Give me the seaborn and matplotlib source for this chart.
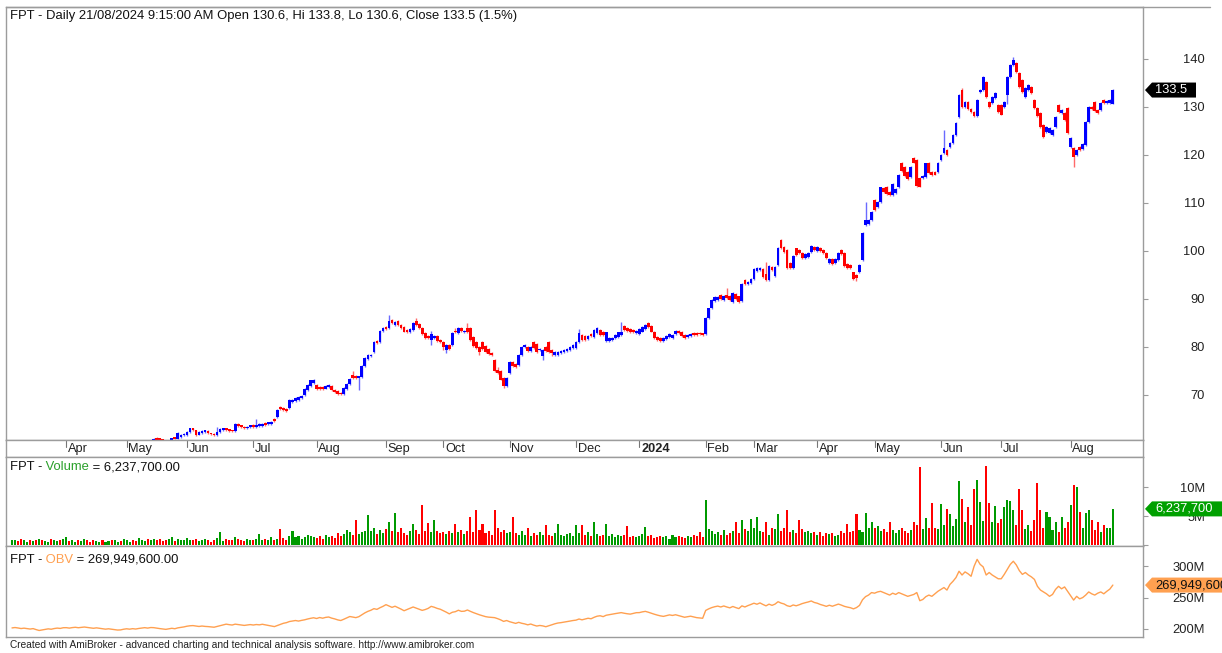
import numpy as np
import pandas as pd
import matplotlib
matplotlib.use("Agg")
import matplotlib.pyplot as plt
import seaborn as sns
from matplotlib.patches import Polygon
from matplotlib.transforms import IdentityTransform

sns.set_theme(style="white")
plt.rcParams["font.family"] = ["Liberation Sans", "DejaVu Sans"]

# ---------------- data ----------------
ticker = "FPT"
holidays = ["2023-05-01", "2023-05-02", "2023-05-03", "2023-09-01", "2023-09-04",
            "2024-01-01", "2024-02-08", "2024-02-09", "2024-02-12", "2024-02-13",
            "2024-02-14", "2024-04-18", "2024-04-29", "2024-04-30", "2024-05-01"]

opens = [
 56.3,56.5,56.8,56.2,56.0,56.6,57.0,56.8,57.3,57.1,57.5,57.2,57.6,57.9,57.5,57.8,58.2,58.0,
 58.4,58.7,58.3,58.8,59.0,58.6,58.9,59.2,58.8,58.5,58.2,58.6,58.9,58.6,59.0,59.3,59.0,59.4,59.6,59.3,
 59.7,59.8,60.0,59.7,59.5,59.9,60.1,60.2,59.9,60.4,61.1,60.8,60.6,60.5,60.2,60.4,61.2,60.9,61.2,61.6,
 61.6,62.3,63.0,62.6,61.7,62.0,62.3,62.4,62.0,61.9,61.6,62.3,62.6,63.0,62.8,62.6,62.4,64.0,63.7,63.4,63.0,63.3,
 63.8,63.3,63.6,63.5,64.2,63.9,64.0,65.0,65.4,67.4,67.3,67.1,67.3,68.6,68.8,69.0,69.3,70.0,71.0,71.8,72.4,
 72.0,71.7,71.6,71.3,71.6,71.9,71.1,70.8,70.4,70.2,71.3,72.2,74.2,73.9,73.5,73.8,76.0,77.4,78.0,79.0,81.2,81.0,83.4,
 84.2,83.9,85.6,84.5,85.4,84.6,84.2,83.6,83.0,83.6,85.3,84.8,84.0,82.8,82.3,81.5,81.9,82.2,81.4,
 81.0,79.3,80.4,80.3,83.3,82.9,84.0,83.0,84.0,84.0,82.0,81.0,80.0,81.0,80.2,79.5,78.8,77.3,75.2,75.0,73.5,71.8,
 74.6,76.9,76.5,76.2,78.3,80.0,79.9,79.2,81.0,80.6,79.3,78.0,80.0,81.0,79.4,78.3,78.4,78.7,79.0,79.2,79.4,79.8,
 79.8,81.0,82.4,82.3,81.6,82.6,82.0,82.8,83.6,83.2,81.3,81.2,81.4,81.8,82.0,82.5,84.4,84.0,83.8,83.6,82.8,
 82.6,83.2,83.8,84.9,84.3,83.2,82.0,81.8,81.3,81.6,82.0,81.9,82.6,83.4,83.1,82.5,82.0,82.2,82.9,82.8,82.8,82.7,
 82.6,86.0,88.0,89.6,89.8,90.8,89.8,90.8,90.6,89.4,91.0,90.5,89.6,94.0,93.0,93.4,
 94.2,95.8,96.0,96.2,95.2,94.0,96.6,94.8,97.0,102.2,100.8,100.2,97.5,96.5,100.5,100.2,99.6,98.6,98.8,99.8,100.8,
 100.0,100.6,100.2,99.6,97.5,98.3,97.4,98.1,100.2,99.6,97.2,97.0,95.5,95.0,95.6,98.1,105.4,105.6,106.5,
 110.5,109.2,110.2,113.0,113.3,112.3,111.7,112.1,113.3,118.3,117.5,116.5,115.4,119.3,119.0,115.2,115.2,115.4,118.3,116.5,116.4,116.5,
 119.0,120.4,121.0,121.7,122.5,124.2,127.9,133.6,130.0,131.0,129.5,129.0,128.0,133.1,133.5,135.2,131.0,130.8,131.9,130.4,
 130.4,130.0,132.5,136.2,138.7,139.2,137.0,135.6,132.0,133.5,134.2,131.5,129.8,128.7,126.2,124.8,124.5,124.2,125.8,130.4,128.8,128.8,129.8,
 121.7,121.5,120.0,121.7,121.2,122.0,126.9,130.0,131.0,129.4,129.4,131.5,130.8,130.8,130.6]

closes = [
 56.5,56.8,56.2,56.0,56.6,57.0,56.8,57.3,57.1,57.5,57.2,57.6,57.9,57.5,57.8,58.2,58.0,58.4,
 58.7,58.3,58.8,59.0,58.6,58.9,59.2,58.8,58.5,58.2,58.6,58.9,58.6,59.0,59.3,59.0,59.4,59.6,59.3,59.7,
 59.8,60.0,59.7,59.5,59.9,60.1,60.2,59.9,60.4,60.8,60.7,60.6,60.5,60.2,60.4,61.0,60.9,62.0,61.6,61.8,
 62.3,63.0,62.6,61.7,62.2,62.4,62.5,62.0,61.8,61.6,62.3,62.8,63.0,62.7,62.5,62.4,63.9,63.6,63.3,63.0,63.4,63.6,
 63.4,63.7,63.9,64.0,63.8,64.2,64.3,64.6,66.9,67.0,66.9,66.7,68.9,69.0,69.3,69.6,69.8,71.2,72.0,73.0,73.1,
 71.3,71.3,71.2,71.9,72.0,71.1,70.6,70.2,70.1,71.5,72.2,73.4,73.5,73.5,73.8,76.0,77.6,78.3,78.4,81.0,80.8,83.3,83.9,
 83.8,85.4,85.0,85.2,84.6,84.0,83.2,83.0,83.8,85.0,84.5,84.0,82.6,81.9,81.8,82.6,82.3,81.2,81.0,
 80.0,80.4,79.6,82.9,83.0,84.0,83.4,83.3,83.0,81.5,80.2,79.8,79.0,79.5,79.0,78.5,78.4,75.0,74.5,73.2,71.8,73.5,
 76.8,76.0,75.9,78.3,80.0,80.4,79.2,79.9,79.8,79.0,79.5,79.4,79.2,79.0,78.7,78.9,79.0,79.1,79.4,79.6,80.0,80.4,
 81.0,82.9,81.5,81.4,82.2,82.3,83.5,84.0,82.5,82.4,83.0,81.8,81.9,82.5,83.0,83.0,83.6,83.4,83.1,83.0,83.4,
 83.8,84.2,84.6,84.2,83.2,81.8,81.5,81.3,81.9,82.3,82.6,82.4,83.4,82.9,82.2,81.9,82.5,82.6,82.5,82.5,82.6,82.5,
 86.0,88.0,89.7,90.3,90.4,90.0,90.6,90.2,89.8,91.2,90.0,89.4,93.0,93.0,93.6,94.2,
 96.2,96.4,96.5,94.6,94.0,96.8,96.0,96.6,100.6,100.6,99.8,96.5,96.5,99.0,99.2,99.5,98.6,99.4,99.6,101.0,100.2,
 100.8,100.0,99.6,98.6,98.4,97.3,98.3,99.6,99.3,96.8,96.5,96.4,94.2,94.3,97.0,103.8,106.4,106.5,108.1,
 108.6,110.2,113.2,112.2,111.9,111.6,114.0,112.8,115.8,116.6,115.6,115.0,117.4,118.4,113.5,113.4,115.5,118.2,116.3,115.8,115.9,118.3,
 120.0,121.4,120.0,122.5,124.2,126.7,132.5,130.0,131.0,129.5,129.0,128.0,131.5,133.6,136.2,132.0,130.0,132.0,132.9,129.0,
 128.4,131.0,136.2,138.7,139.8,137.3,134.2,133.0,134.0,134.6,132.9,129.8,128.0,125.8,123.8,125.8,125.5,125.2,127.9,129.0,129.4,127.3,124.6,
 123.5,119.6,121.0,121.0,122.2,126.9,130.0,129.5,129.2,128.8,130.8,130.8,131.3,131.5,133.5]

highs = [
 56.8,57.0,56.9,56.4,56.8,57.2,57.1,57.5,57.4,57.7,57.6,57.8,58.1,58.0,58.0,58.4,58.3,58.6,
 58.9,58.8,58.9,59.2,59.1,59.0,59.4,59.3,59.0,58.7,58.8,59.1,59.0,59.2,59.5,59.4,59.6,59.8,59.7,59.9,
 60.0,60.2,60.1,60.0,60.1,60.3,60.4,60.3,60.5,61.0,61.2,61.0,60.9,60.6,60.5,61.1,61.3,62.3,61.8,62.0,
 62.5,63.2,63.1,62.7,62.4,62.6,62.7,62.6,62.1,62.0,63.3,63.0,63.2,63.1,62.9,62.7,64.1,64.2,63.8,63.5,63.6,63.8,
 63.9,65.0,64.1,64.2,64.3,64.4,64.5,65.1,67.1,67.6,67.5,67.3,69.1,69.2,69.5,69.8,70.0,71.5,72.2,73.2,73.3,
 72.2,71.9,71.8,72.1,72.2,72.0,71.3,71.0,70.6,71.7,72.4,73.6,75.0,74.1,74.0,76.2,77.8,78.5,78.6,81.2,81.4,83.5,84.1,
 84.4,86.7,85.8,85.4,85.6,84.8,84.4,83.8,84.0,85.2,86.0,85.0,84.2,83.0,82.5,83.3,82.5,82.4,81.6,
 81.2,80.6,80.6,83.1,84.0,84.2,84.2,83.5,85.0,84.2,82.2,81.2,80.2,81.2,80.4,79.7,79.0,77.5,75.8,75.2,73.7,73.7,
 77.0,77.1,76.7,78.5,80.2,80.6,80.1,80.1,81.2,80.8,79.7,79.6,80.2,81.2,79.6,79.1,79.2,79.3,79.6,79.8,80.2,80.6,
 81.2,83.8,82.6,82.5,82.4,82.8,83.7,84.2,83.8,83.4,83.2,82.0,82.1,82.7,83.2,85.2,84.6,84.2,84.0,83.8,83.6,
 84.0,84.4,84.8,85.1,84.5,83.4,82.2,82.0,82.1,82.5,82.8,82.6,83.6,83.6,83.3,82.7,82.7,82.8,83.1,83.0,83.0,82.9,
 86.2,88.2,89.9,90.5,90.6,91.0,90.8,92.2,90.8,91.5,91.2,90.7,93.3,94.2,93.8,94.4,
 96.5,96.6,96.7,96.4,97.6,97.0,96.8,96.8,100.8,102.4,101.0,100.4,97.7,99.2,100.7,100.4,99.8,99.6,99.8,101.2,101.0,
 101.0,100.8,100.4,99.8,98.6,98.5,98.5,99.8,100.4,99.8,97.4,97.2,95.7,95.2,97.2,104.0,110.2,106.7,108.3,
 110.8,110.4,113.4,113.4,113.5,112.5,114.2,113.0,116.0,118.5,117.7,116.7,117.6,119.5,119.2,115.4,115.7,118.4,118.5,116.7,116.6,118.5,
 120.2,125.2,121.2,122.7,124.4,126.9,132.7,134.0,131.2,131.2,129.7,129.2,131.7,133.8,136.4,135.4,131.2,132.2,133.1,130.6,
 130.6,131.2,136.4,138.9,140.3,139.4,137.2,135.8,134.2,134.8,134.4,131.7,130.0,128.9,126.4,126.0,125.7,125.4,128.1,130.6,129.6,129.0,130.0,
 123.7,121.7,121.2,121.9,122.4,127.1,130.2,130.2,131.2,129.6,131.0,131.7,131.5,131.7,133.8]

lows = [
 56.0,56.3,56.0,55.7,55.9,56.4,56.5,56.7,56.9,57.0,57.0,57.1,57.4,57.3,57.4,57.7,57.8,57.9,
 58.2,58.2,58.2,58.6,58.5,58.4,58.8,58.7,58.3,58.0,58.1,58.5,58.4,58.5,58.9,58.8,58.9,59.2,59.1,59.2,
 59.4,59.5,59.5,59.3,59.4,59.7,59.9,59.8,59.8,60.3,60.6,60.5,60.3,60.0,60.0,60.3,60.8,60.8,61.1,61.4,
 61.4,62.1,62.4,61.5,61.6,61.8,62.1,61.9,61.6,61.4,61.4,62.1,62.4,62.5,62.3,62.2,62.3,63.4,63.1,62.8,62.8,63.1,
 63.2,63.1,63.4,63.3,63.6,63.7,63.8,64.4,65.2,66.8,66.7,66.5,67.1,68.4,68.6,68.8,69.1,69.8,70.8,71.6,72.2,
 71.1,71.1,71.0,71.2,71.4,70.9,70.4,70.0,69.9,70.0,71.1,72.0,73.3,73.3,71.0,73.6,75.8,77.2,77.8,78.8,80.6,80.8,83.2,
 83.6,83.7,84.8,84.3,84.4,83.8,83.0,82.8,82.8,83.4,84.3,83.8,82.4,81.7,81.6,80.4,81.7,81.0,80.8,
 79.4,78.8,79.4,80.1,82.8,82.7,83.2,82.8,82.8,81.3,80.0,79.6,78.3,79.3,78.8,78.3,78.2,74.8,74.3,73.0,71.5,71.6,
 74.4,75.8,75.7,76.0,78.1,79.8,79.0,79.0,79.6,78.8,79.1,77.3,79.0,78.8,78.1,78.1,78.2,78.5,78.8,79.0,79.2,79.6,
 79.6,80.8,81.3,81.2,81.4,82.1,81.8,82.6,82.3,82.2,81.1,81.0,81.2,81.6,81.8,82.3,83.4,83.2,82.9,82.8,82.6,
 82.4,83.0,83.6,84.0,83.0,81.6,81.3,81.1,81.1,81.4,81.8,81.7,82.4,82.7,82.0,81.7,81.8,82.0,82.3,82.3,82.4,82.3,
 82.4,85.8,87.8,89.4,89.6,89.8,89.6,90.0,89.6,89.2,89.8,89.2,89.4,92.8,92.8,93.2,
 94.0,95.6,95.8,94.4,93.8,93.8,95.8,94.6,96.8,100.4,99.6,96.3,96.3,96.3,99.0,99.3,98.4,98.4,98.6,99.6,100.0,
 99.8,99.8,99.4,98.4,97.3,97.1,97.2,97.9,99.1,96.6,96.3,96.2,94.0,93.8,95.4,97.9,105.2,105.4,106.3,
 108.4,109.0,110.0,112.0,111.7,111.4,111.5,111.9,113.1,116.4,115.4,114.8,115.2,118.2,113.3,113.2,115.0,115.2,116.1,115.6,115.7,116.3,
 118.8,120.2,119.8,121.5,122.3,124.0,127.7,129.8,129.8,129.3,128.8,127.8,127.8,132.9,133.3,131.8,129.8,130.6,131.7,128.8,
 128.2,129.8,130.5,136.0,138.5,137.1,134.0,132.8,131.8,133.3,132.7,129.6,127.8,125.6,123.6,124.6,124.3,124.0,125.6,128.8,128.6,127.1,124.4,
 121.5,117.5,119.8,120.8,121.0,121.8,126.7,129.3,129.0,128.6,129.2,130.6,130.6,130.6,130.6]

volume_m = [
 0.8,0.9,0.7,1.0,0.8,0.6,0.9,0.7,0.8,1.1,0.9,0.7,0.6,1.1,0.8,0.7,0.9,1.0,
 1.3,0.7,0.9,0.6,0.8,0.7,1.0,0.8,0.6,0.9,0.7,0.5,0.8,0.6,0.7,0.9,0.8,0.6,0.7,1.0,
 0.8,0.6,0.9,0.7,1.2,0.8,0.7,1.0,0.9,1.1,0.8,1.0,0.7,0.9,1.0,1.3,0.7,1.0,0.9,0.8,
 1.2,0.8,0.9,1.0,0.7,0.8,1.0,0.9,0.6,0.8,1.2,2.2,0.7,1.0,0.8,0.9,1.4,1.0,0.8,0.7,1.1,0.9,
 0.8,1.0,1.9,0.9,1.1,0.8,1.3,0.9,1.0,2.8,1.2,0.9,1.5,2.4,1.3,1.6,1.1,1.4,1.8,1.6,1.3,
 1.2,1.5,1.1,1.8,1.3,1.6,1.2,2.0,1.6,1.9,2.6,2.2,1.8,4.3,1.9,2.2,2.5,5.2,2.4,2.9,1.9,2.6,2.1,
 2.8,4.0,2.4,5.5,2.2,2.9,2.0,1.8,2.4,3.6,2.6,1.9,6.9,2.4,3.8,2.2,4.4,2.5,2.0,
 2.2,1.9,2.4,2.0,3.7,2.3,2.6,1.9,2.4,4.9,2.2,6.0,2.6,3.7,2.0,2.4,1.8,6.0,2.9,2.3,2.6,2.0,
 2.2,4.9,2.0,1.8,2.4,1.7,2.9,1.6,2.0,1.8,2.2,1.7,3.4,1.8,1.6,2.0,3.6,1.7,1.5,1.9,2.1,1.6,
 3.4,2.0,3.4,1.8,2.2,1.6,4.0,1.9,1.5,1.8,3.7,1.6,1.9,1.4,1.7,1.5,1.8,3.3,1.4,1.6,1.3,
 1.6,1.9,3.1,1.5,1.8,1.2,1.4,1.6,1.3,1.5,1.1,1.7,1.3,1.6,1.4,1.2,1.5,1.3,1.8,1.6,2.2,1.3,
 7.8,2.8,2.4,1.9,2.2,1.7,2.6,1.8,2.0,2.4,4.0,2.1,4.3,2.7,2.5,4.5,
 3.0,4.9,2.4,2.2,4.0,1.8,3.0,2.7,5.3,2.4,2.9,6.0,2.2,2.6,2.0,4.3,2.8,2.2,2.5,2.0,2.3,
 1.8,2.3,1.6,2.1,1.9,2.0,1.5,1.7,2.4,2.0,3.7,2.2,2.5,5.4,2.6,2.2,5.6,3.0,4.0,
 3.0,3.2,2.4,2.8,2.2,4.0,2.6,2.0,2.6,3.0,2.4,2.0,2.6,4.0,3.5,13.4,2.8,4.6,3.0,7.2,3.0,2.8,
 7.1,3.5,6.3,5.4,3.2,4.5,11.1,8.0,4.0,6.6,3.5,9.6,11.2,7.5,4.2,13.6,7.2,4.0,6.8,3.8,
 4.5,6.6,7.8,7.6,6.0,3.5,9.6,6.0,2.8,3.4,2.5,4.3,10.7,6.1,3.0,5.7,4.9,2.6,4.0,2.2,4.8,2.9,4.0,
 6.9,10.3,10.1,5.7,2.9,5.6,6.0,4.3,2.6,4.0,2.2,3.4,2.9,3.0,6.2377]

obv_m = [
 201.6,202.2,201.5,200.6,201.2,200.5,199.8,200.5,198.9,197.5,198.4,199.2,200.1,199.5,200.6,201.3,200.8,201.9,
 202.0,201.3,202.1,202.6,201.9,202.4,203.0,202.3,201.6,201.0,201.7,201.0,200.3,199.6,200.2,199.5,198.8,198.2,198.4,199.5,
 200.2,199.6,200.4,199.8,200.7,201.4,202.0,201.3,202.2,202.0,201.2,200.5,199.9,199.3,200.1,201.0,200.3,201.7,202.5,203.2,
 204.3,205.0,205.3,204.6,203.9,204.6,204.0,203.7,203.2,202.7,203.9,205.0,206.2,207.6,206.8,206.2,207.6,206.9,206.2,205.6,206.3,206.9,
 206.2,207.0,206.5,207.4,206.5,205.5,204.6,203.7,205.5,207.2,209.0,210.0,211.8,212.6,213.4,212.5,213.6,214.5,215.8,216.9,217.8,
 216.6,218.2,217.1,218.4,219.0,217.2,216.0,214.4,213.4,215.4,217.6,219.8,218.9,218.0,219.5,222.5,225.6,228.0,229.8,232.3,231.2,233.8,236.0,
 238.7,236.5,234.4,236.2,233.9,231.6,229.0,231.0,233.1,235.0,233.2,231.5,229.6,230.9,232.8,236.0,234.6,232.7,231.4,
 229.0,226.7,224.0,226.6,227.5,229.8,228.0,228.3,230.2,228.0,226.0,224.2,222.5,221.0,219.6,218.8,218.4,218.0,216.4,214.5,212.0,213.4,
 211.5,210.2,208.8,210.5,209.0,208.0,206.5,207.8,206.0,204.6,205.5,204.8,203.5,205.0,206.6,208.2,209.4,210.0,210.8,211.6,212.5,213.4,
 214.0,215.8,214.5,215.7,217.0,216.2,218.5,220.3,221.0,219.6,221.8,222.7,223.6,224.4,225.2,226.0,225.0,224.2,223.6,224.8,225.9,
 226.0,227.2,228.0,226.6,225.0,223.4,222.0,220.8,220.0,221.2,222.4,221.5,222.6,221.3,220.0,218.6,219.5,220.3,219.2,218.0,217.5,217.0,
 229.5,232.0,234.0,235.4,236.4,235.0,236.6,235.0,233.6,235.8,234.0,232.4,236.8,235.0,237.2,239.0,
 241.0,239.4,241.5,239.0,236.8,239.5,237.6,239.6,243.4,241.2,239.8,237.0,235.8,238.2,236.9,238.5,240.4,241.8,243.0,244.6,242.2,
 241.0,239.0,237.6,236.0,237.8,236.2,237.9,239.6,238.0,236.0,234.8,233.8,232.0,234.0,237.5,246.5,251.5,254.0,258.0,
 257.0,259.0,260.0,258.0,256.0,254.0,257.0,255.0,258.0,256.0,254.0,252.0,253.5,255.0,258.0,245.0,247.0,251.5,254.0,252.0,256.0,260.0,
 263.0,266.0,262.0,271.0,276.0,282.0,292.0,286.0,291.0,288.0,284.0,300.0,311.0,303.0,299.0,286.0,290.0,286.0,283.0,280.0,
 280.0,287.0,295.0,303.0,308.0,302.0,293.0,287.0,290.0,286.0,283.0,279.0,268.0,262.0,259.0,256.0,252.0,255.0,263.0,268.0,264.0,267.0,260.0,
 253.0,246.0,252.0,248.0,250.0,254.0,259.0,256.0,254.0,257.0,259.0,256.0,260.0,263.5,269.9496]

price_ticks = [70, 80, 90, 100, 110, 120, 130, 140]
vol_ticks = [0, 5, 10]
vol_tick_labels = ["", "5M", "10M"]
obv_ticks = [200, 250, 300]
obv_tick_labels = ["200M", "250M", "300M"]
footer = ("Created with AmiBroker - advanced charting and technical analysis software. "
          "http://www.amibroker.com")

# ---------------- derived frame ----------------
dates = [d for d in pd.bdate_range("2023-03-08", "2024-08-21")
         if d.strftime("%Y-%m-%d") not in holidays]
O = np.array(opens); Hh = np.array(highs); L = np.array(lows); C = np.array(closes)
V = np.array(volume_m) * 1e6
OBV = np.array(obv_m) * 1e6
n = len(dates)
assert len(O) == len(C) == len(Hh) == len(L) == len(V) == len(OBV) == n
idx = np.arange(n)
up = C >= O
df = pd.DataFrame({"i": idx, "vol": V / 1e6, "dir": np.where(up, "up", "down"),
                   "obv": OBV / 1e6})

# ---------------- layout ----------------
W, HGT = 1222, 653
fig = plt.figure(figsize=(W / 100, HGT / 100), dpi=100)
fig.patch.set_facecolor("white")

def add_ax(l, t, r, b):
    return fig.add_axes([l / W, 1 - b / HGT, (r - l) / W, (b - t) / HGT])

axp = add_ax(6, 7, 1143, 440)
axd = add_ax(6, 440, 1143, 457)
axv = add_ax(6, 457, 1143, 546)
axo = add_ax(6, 546, 1143, 637)

xl = (-(12 - 6) / 3.016, (1143 - 12) / 3.016)
frame_c = "#9c9c9c"
for ax in (axp, axd, axv, axo):
    ax.set_xlim(*xl)
    ax.set_facecolor("white")
    for s in ax.spines.values():
        s.set_color(frame_c)
        s.set_linewidth(1.0)
    ax.set_xticks([])
    ax.set_xlabel("")
    ax.set_ylabel("")

fig.add_artist(plt.Line2D([6 / W, 1210 / W], [1 - 7 / HGT, 1 - 7 / HGT],
                          color=frame_c, lw=1.0))

# ---------------- price candles ----------------
body_c = np.where(up, "#0000ff", "#ff0000")
wick_c = np.where(up, "#6a6aff", "#ff6a6a")
axp.vlines(idx, L, Hh, colors=wick_c, linewidth=1.0, zorder=2)
body_h = np.maximum(np.abs(C - O), 0.35)
axp.bar(idx, body_h, bottom=np.minimum(O, C), width=0.92, color=body_c,
        linewidth=0, zorder=3)
axp.set_ylim(60.6, 150.8)

# ---------------- volume ----------------
sns.barplot(data=df, x="i", y="vol", hue="dir", native_scale=True, dodge=False,
            palette={"up": "#009a00", "down": "#ff0000"}, width=0.68,
            saturation=1, errorbar=None, legend=False, ax=axv, linewidth=0)
for p in axv.patches:
    p.set_antialiased(False)
axv.set_xlim(*xl)
axv.set_ylim(-0.17, 15.2)
axv.set_xticks([])
axv.set_xlabel(""); axv.set_ylabel("")

# ---------------- OBV ----------------
sns.lineplot(data=df, x="i", y="obv", color="#ffa050", linewidth=1.0, ax=axo)
axo.set_xlim(*xl)
axo.set_ylim(187.1, 332.3)
axo.set_xticks([])
axo.set_xlabel(""); axo.set_ylabel("")

# ---------------- right axes ----------------
def right_axis(ax, ticks, labels):
    ax.yaxis.tick_right()
    ax.set_yticks(ticks)
    ax.set_yticklabels(labels)
    ax.tick_params(axis="y", which="both", right=True, left=False, direction="out",
                   length=3.6, width=0.8, color=frame_c, pad=41, labelsize=9.3,
                   labelcolor="#222222")
    for t in ax.get_yticklabels():
        t.set_horizontalalignment("right")

right_axis(axp, price_ticks, [str(t) for t in price_ticks])
right_axis(axv, vol_ticks, vol_tick_labels)
right_axis(axo, obv_ticks, obv_tick_labels)
axd.set_yticks([])
axd.set_ylim(0, 1)

# ---------------- date strip ----------------
first_of_month = []
prev = None
for i, d in enumerate(dates):
    key = (d.year, d.month)
    if key != prev:
        if prev is not None:
            first_of_month.append(i)
        prev = key
for i in first_of_month:
    d = dates[i]
    axd.plot([i, i], [1.0, 0.6], color="#777777", lw=0.8, clip_on=False)
    lab = "2024" if d.month == 1 else d.strftime("%b")
    axd.text(i + 0.6, 0.45, lab, fontsize=9.2, ha="left", va="center",
             color="#222222", fontweight="bold" if d.month == 1 else "normal")

# ---------------- titles ----------------
renderer = fig.canvas.get_renderer()

def multi_text(x_px, y_px, parts, size=9.4):
    x = x_px
    for s, c in parts:
        t = fig.text(x / W, 1 - y_px / HGT, s, color=c, fontsize=size,
                     ha="left", va="center")
        x += t.get_window_extent(renderer=renderer).width

chg = (C[-1] / C[-2] - 1) * 100
title = (f"{ticker} - Daily {dates[-1].strftime('%d/%m/%Y')} 9:15:00 AM Open {O[-1]:.1f}, "
         f"Hi {Hh[-1]:.1f}, Lo {L[-1]:.1f}, Close {C[-1]:.1f} ({chg:.1f}%)")
multi_text(10, 16, [(title, "#111111")])
multi_text(10, 467, [(f"{ticker} -", "#111111"), (" Volume", "#2aa02a"),
                     (f" = {V[-1]:,.2f}", "#111111")])
multi_text(10, 560, [(f"{ticker} -", "#111111"), (" OBV", "#ffa050"),
                     (f" = {round(OBV[-1]):,.2f}", "#111111")])
fig.text(10 / W, 1 - 645 / HGT, footer, fontsize=7.3, color="#222222",
         ha="left", va="center")

# ---------------- value tags ----------------
def tag(ax, yval, text, face, tcol, right_px):
    fig.canvas.draw()
    _, ydisp = ax.transData.transform((0, yval))
    x0 = ax.transAxes.transform((1, 0))[0] + 2
    h = 7.5
    pts = [(x0, ydisp), (x0 + 7, ydisp + h), (right_px, ydisp + h),
           (right_px, ydisp - h), (x0 + 7, ydisp - h)]
    fig.add_artist(Polygon(pts, closed=True, transform=IdentityTransform(),
                           facecolor=face, edgecolor="none", zorder=10))
    fig.text((x0 + 10) / W, ydisp / HGT, text, color=tcol, fontsize=9.3,
             ha="left", va="center", zorder=11)

tag(axp, C[-1], f"{C[-1]:.1f}", "#000000", "white", 1196)
tag(axv, V[-1] / 1e6, f"{V[-1]:,.0f}", "#00a000", "white", 1230)
tag(axo, OBV[-1] / 1e6, f"{round(OBV[-1]):,}", "#ffa050", "#111111", 1230)

fig.savefig("out.png", dpi=100)
